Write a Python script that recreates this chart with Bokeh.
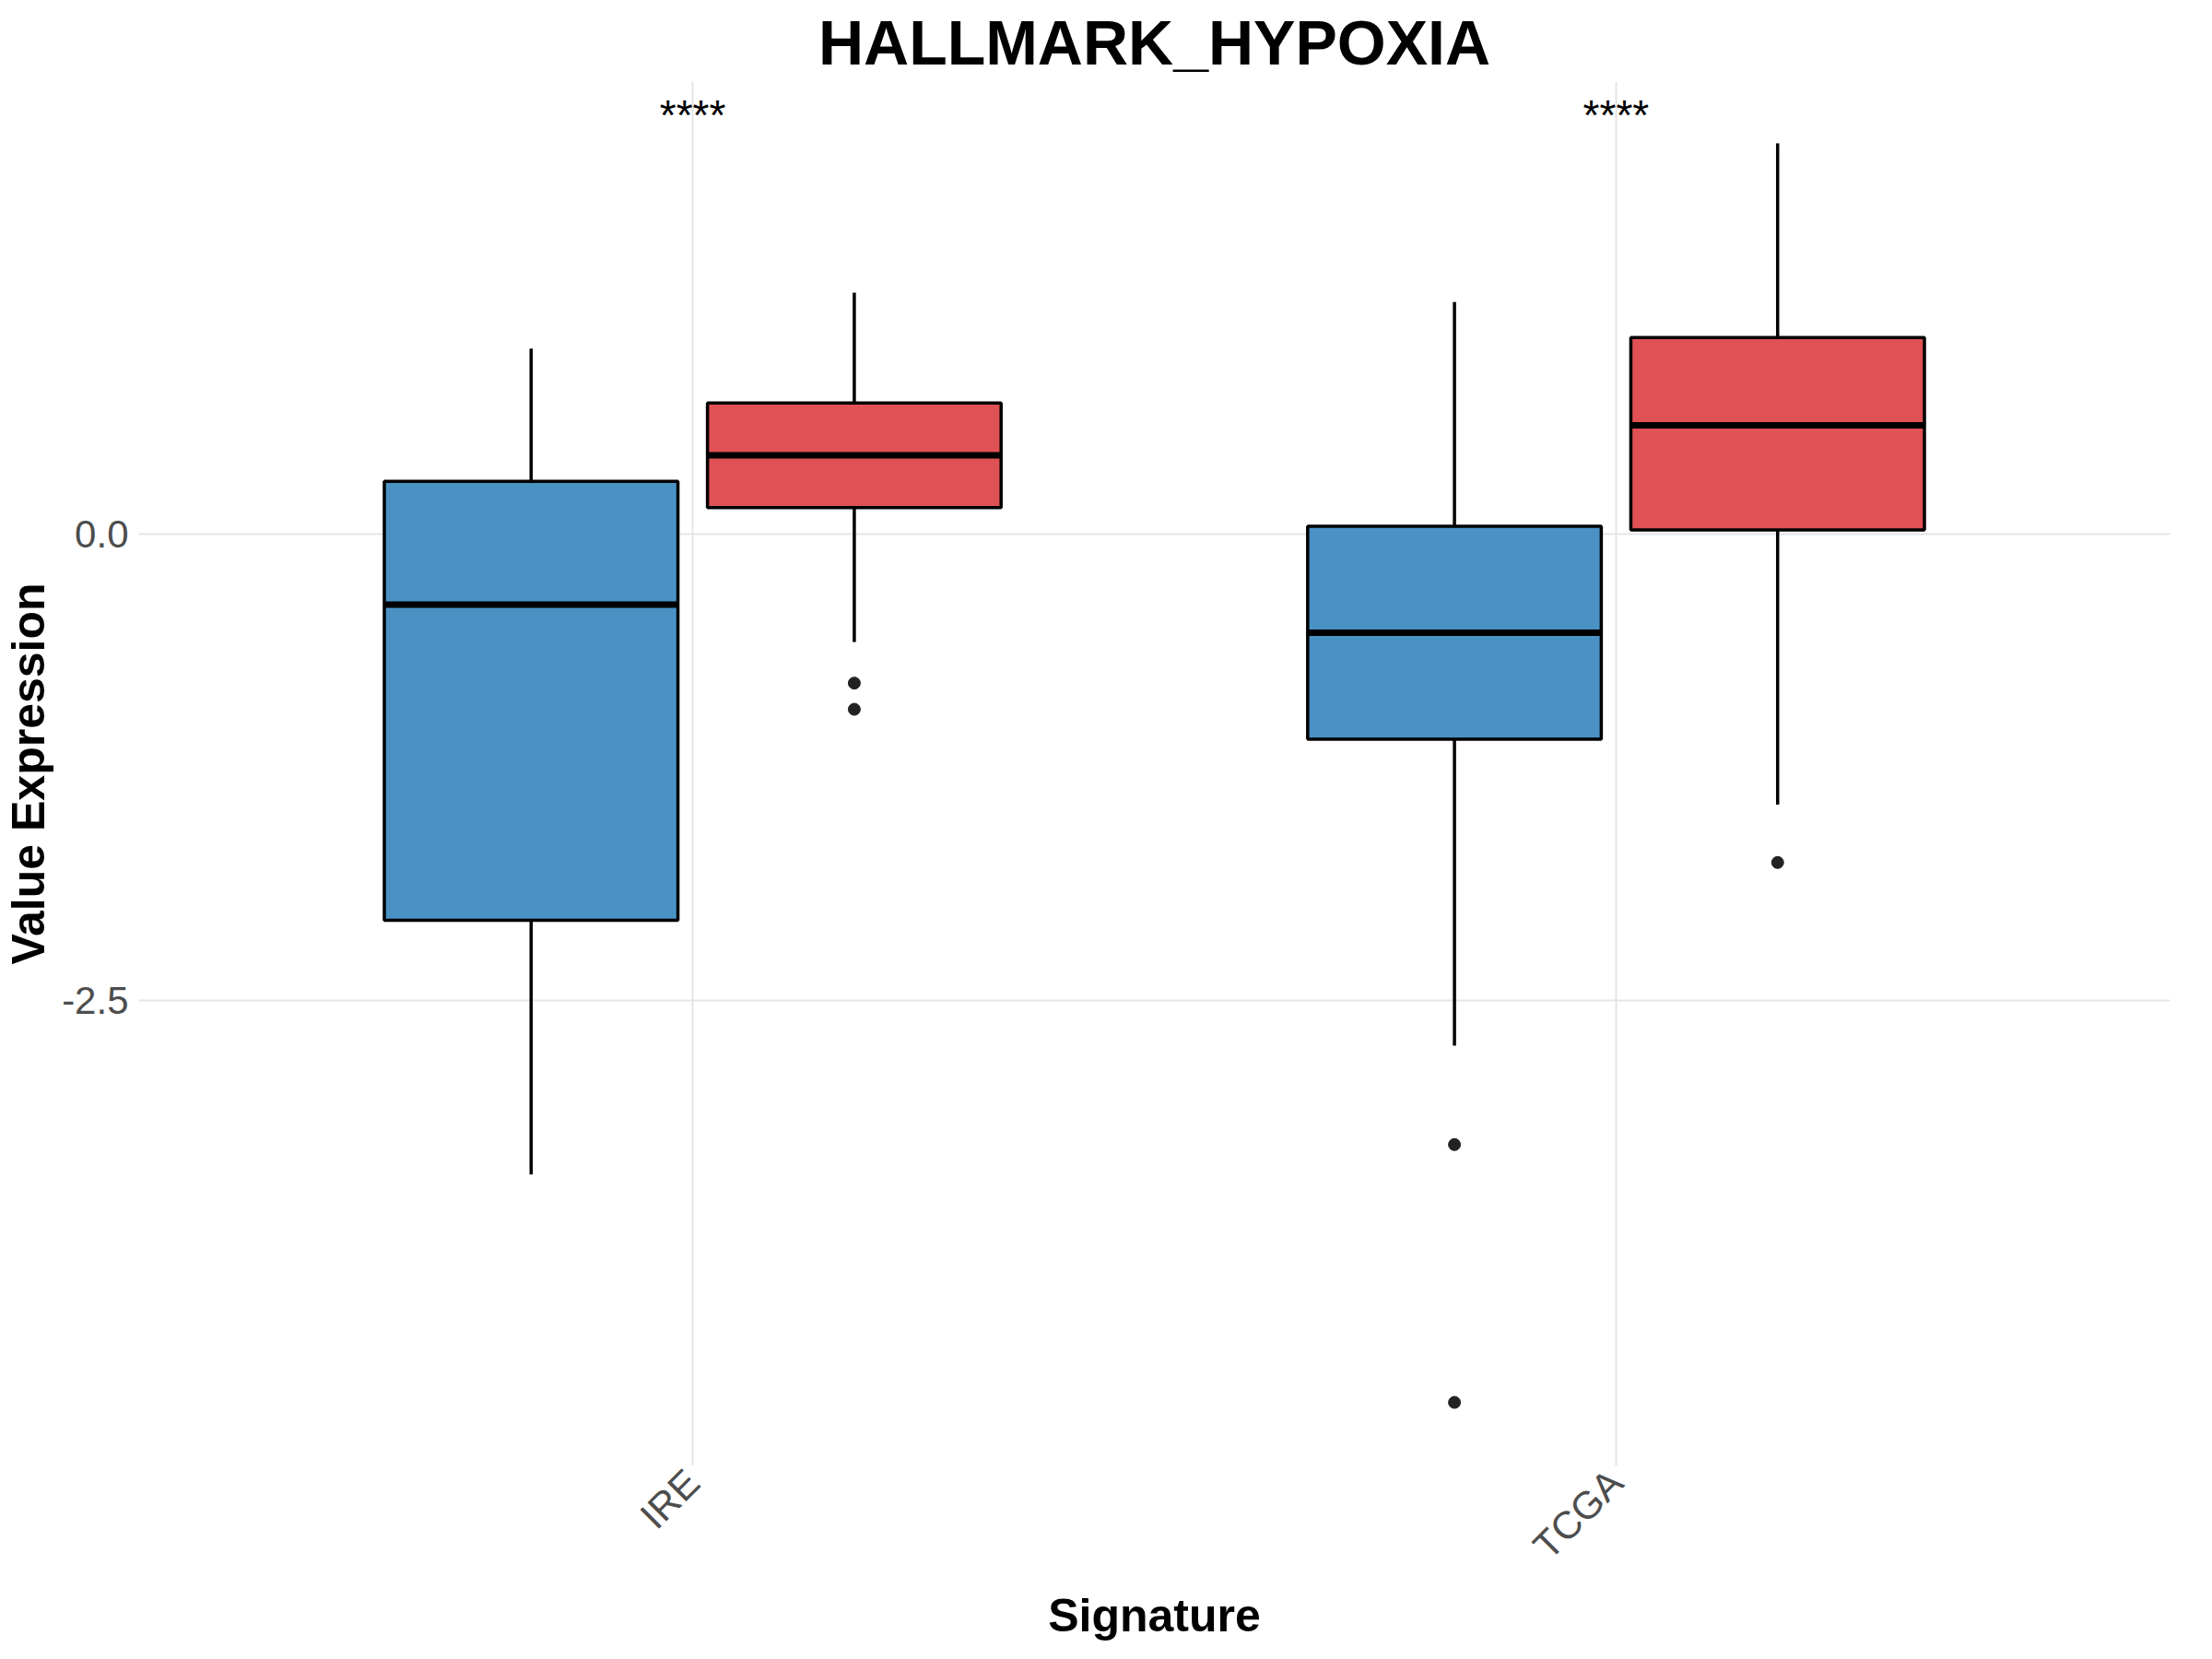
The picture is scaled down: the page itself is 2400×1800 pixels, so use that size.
from bokeh.plotting import figure
from bokeh.embed import file_html
from bokeh.resources import INLINE
from bokeh.models import FixedTicker
from bokeh.core.properties import value
import math

categories = ["IRE", "TCGA"]
offsets = [-0.175, 0.175]
colors = ["#4A92C4", "#DF5155"]
# per box: (cat index, group index, low whisker, q1, median, q3, high whisker)
boxes = [
    (0, 0, -3.43, -2.07, -0.38, 0.28, 0.99),
    (0, 1, -0.58, 0.14, 0.42, 0.70, 1.29),
    (1, 0, -2.74, -1.10, -0.53, 0.04, 1.24),
    (1, 1, -1.45, 0.02, 0.58, 1.05, 2.09),
]
outlier_cat = [0, 0, 1, 1, 1]
outlier_grp = [1, 1, 0, 0, 1]
outlier_val = [-0.80, -0.94, -3.27, -4.65, -1.76]
sig_labels = ["****", "****"]
sig_y = 2.24

p = figure(width=2384, height=1784, output_backend="svg", toolbar_location=None,
           x_range=(0.4, 2.6), y_range=(-4.99, 2.42),
           title="HALLMARK_HYPOXIA", min_border_left=50, min_border_right=30,
           min_border_top=50, min_border_bottom=30)
p.outline_line_color = None
p.title.align = "center"
p.title.text_font = "Liberation Sans"
p.title.text_font_size = "68px"
p.title.text_font_style = "bold"
p.title.text_color = "black"

bw = 0.318
for ci, gi, lo, q1, med, q3, hi in boxes:
    x = ci + 1 + offsets[gi]
    p.segment([x, x], [hi, q1], [x, x], [q3, lo], line_color="black", line_width=3.5)
    p.vbar(x=[x], width=bw, bottom=[q1], top=[q3], fill_color=colors[gi],
           line_color="black", line_width=3.5)
    p.segment([x - bw / 2], [med], [x + bw / 2], [med], line_color="black", line_width=7)

ox = [c + 1 + offsets[g] for c, g in zip(outlier_cat, outlier_grp)]
p.scatter(ox, outlier_val, size=13, color="#222222")
p.text([1, 2], [sig_y] * 2, text=sig_labels, text_align="center", text_baseline="middle",
       text_font=value("Liberation Sans"), text_font_size="46px")

p.xaxis.ticker = FixedTicker(ticks=[1, 2])
p.xaxis.major_label_overrides = {1: "IRE", 2: "TCGA"}
p.xaxis.major_label_orientation = math.pi / 4
p.yaxis.ticker = FixedTicker(ticks=[-2.5, 0.0])
p.yaxis.major_label_overrides = {-2.5: "-2.5", 0: "0.0"}
for ax in (p.xaxis, p.yaxis):
    ax.axis_line_color = None
    ax.major_tick_line_color = None
    ax.minor_tick_line_color = None
    ax.major_label_text_font = "Liberation Sans"
    ax.major_label_text_font_size = "42px"
    ax.major_label_text_color = "#4D4D4D"
    ax.axis_label_text_font = "Liberation Sans"
    ax.axis_label_text_font_size = "50px"
    ax.axis_label_text_font_style = "bold"
    ax.axis_label_text_color = "black"
p.xaxis.axis_label = "Signature"
p.yaxis.axis_label = "Value Expression"
p.grid.grid_line_color = "#E5E5E5"
p.grid.grid_line_width = 2
p.xgrid.ticker = FixedTicker(ticks=[1, 2])
p.ygrid.ticker = FixedTicker(ticks=[-2.5, 0.0])

open("out.html", "w").write(file_html(p, INLINE))
